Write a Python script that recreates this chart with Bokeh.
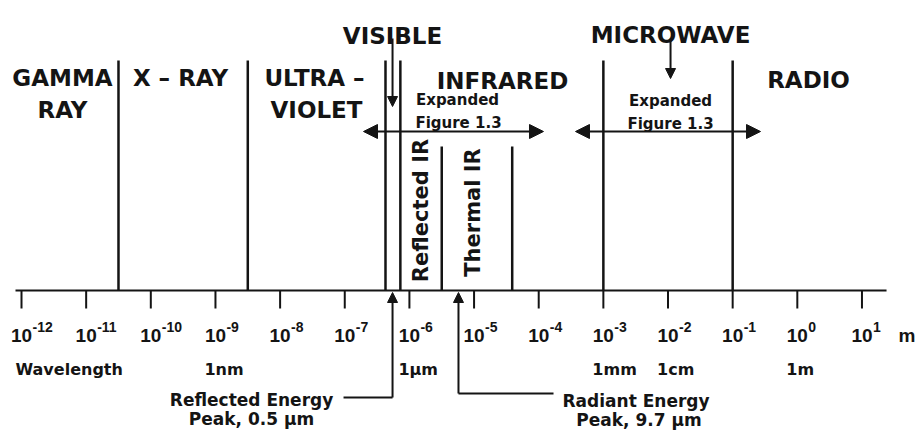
from math import pi
from bokeh.plotting import figure
from bokeh.models import Range1d, ColumnDataSource, Arrow, NormalHead
from bokeh.core.properties import value
from bokeh.embed import file_html
from bokeh.resources import INLINE

# ---------------- data (wavelength axis in log10 metres) ----------------
tick_exponents = [-12, -11, -10, -9, -8, -7, -6, -5, -4, -3, -2, -1, 0, 1]
tick_exponent_labels = ["-12", "-11", "-10", "-9", "-8", "-7", "-6", "-5", "-4",
                        "-3", "-2", "-1", "0", "1"]
# region boundaries (log10 wavelength, m)
band_edges = [-10.5, -8.5, -6.37, -6.14, -3.0, -1.0]
ir_edges = [-5.5, -4.41]
# named units below the axis
unit_names = ["1nm", "1\u03bcm", "1mm", "1cm", "1m"]
unit_exponents = [-9, -6, -3, -2, 0]
# energy peaks as drawn
reflected_peak_label = ["Reflected Energy", "Peak, 0.5 \u03bcm"]
radiant_peak_label = ["Radiant Energy", "Peak, 9.7 \u03bcm"]

# ---------------- layout ----------------
INK = "#141414"
FONT = "DejaVu Sans"
AXIS_Y = 290
TOP_Y = 60
IR_TOP_Y = 146

p = figure(width=917, height=430, output_backend="svg", toolbar_location=None,
           x_range=Range1d(-12.325, 1.859), y_range=Range1d(430, 0),
           min_border=0, outline_line_color=None)
p.axis.visible = False
p.grid.visible = False
p.background_fill_color = "white"
p.border_fill_color = "white"

# axis line and ticks
p.segment(x0=[-12.093], y0=[AXIS_Y], x1=[1.380], y1=[AXIS_Y], line_color=INK, line_width=2.2)
p.segment(x0=tick_exponents, y0=[AXIS_Y] * len(tick_exponents), x1=tick_exponents,
          y1=[AXIS_Y + 18] * len(tick_exponents), line_color=INK, line_width=2)

# tick labels 10^n
p.text(x=tick_exponents, y=[335] * len(tick_exponents), text=["10"] * len(tick_exponents),
       text_align="center", text_baseline="alphabetic", text_font=value("Liberation Sans"),
       text_font_style="bold", text_font_size="19px", text_color=INK)
p.text(x=tick_exponents, y=[326] * len(tick_exponents), text=tick_exponent_labels,
       x_offset=11, text_align="left", text_baseline="alphabetic",
       text_font=value("Liberation Sans"), text_font_style="bold", text_font_size="14px",
       text_color=INK)
p.text(x=[1.565], y=[335], text=["m"], text_align="left", text_baseline="alphabetic",
       text_font=value("Liberation Sans"), text_font_style="bold", text_font_size="19px",
       text_color=INK)

# unit row
p.text(x=unit_exponents, y=[369] * len(unit_exponents), text=unit_names, x_offset=-11,
       text_align="left", text_baseline="alphabetic", text_font=value(FONT),
       text_font_style="bold", text_font_size="16px", text_color=INK)
p.text(x=[-12.093], y=[369], text=["Wavelength"], text_align="left",
       text_baseline="alphabetic", text_font=value(FONT), text_font_style="bold",
       text_font_size="16px", text_color=INK)

# region boundaries
p.segment(x0=band_edges, y0=[AXIS_Y] * len(band_edges), x1=band_edges,
          y1=[TOP_Y] * len(band_edges), line_color=INK, line_width=2.5)
p.segment(x0=ir_edges, y0=[AXIS_Y] * len(ir_edges), x1=ir_edges,
          y1=[IR_TOP_Y] * len(ir_edges), line_color=INK, line_width=2.5)

# big region labels
big = ColumnDataSource(dict(
    x=[-11.366, -11.366, -9.541, -7.468, -7.437, -6.261, -4.560, -1.961, 0.173],
    y=[77, 109, 77, 77, 109, 35, 80, 34, 79],
    text=["GAMMA", "RAY", "X \u2013 RAY", "ULTRA \u2013", "VIOLET", "VISIBLE",
          "INFRARED", "MICROWAVE", "RADIO"]))
p.text(x="x", y="y", text="text", source=big, text_align="center",
       text_baseline="alphabetic", text_font=value(FONT), text_font_style="bold",
       text_font_size="23px", text_color=INK)

# "Expanded Figure 1.3"
exp_src = ColumnDataSource(dict(
    x=[-5.256, -5.241, -1.961, -1.961],
    y=[99, 122.5, 100, 123],
    text=["Expanded", "Figure 1.3", "Expanded", "Figure 1.3"]))
p.text(x="x", y="y", text="text", source=exp_src, text_align="center",
       text_baseline="alphabetic", text_font=value(FONT), text_font_style="bold",
       text_font_size="15px", text_color=INK)

# rotated IR sub-band labels
p.text(x=[-5.828, -5.024], y=[210, 212], text=["Reflected IR", "Thermal IR"],
       angle=pi / 2, text_align="center", text_baseline="middle", text_font=value(FONT),
       text_font_style="bold", text_font_size="21px", text_color=INK)

# energy peak labels
p.text(x=[-8.442, -8.442], y=[399, 418], text=reflected_peak_label, text_align="center",
       text_baseline="alphabetic", text_font=value(FONT), text_font_style="bold",
       text_font_size="17px", text_color=INK)
p.text(x=[-3.632], y=[400], text=[radiant_peak_label[0]], text_align="left",
       text_baseline="alphabetic", text_font=value(FONT), text_font_style="bold",
       text_font_size="17px", text_color=INK)
p.text(x=[-2.449], y=[419], text=[radiant_peak_label[1]], text_align="center",
       text_baseline="alphabetic", text_font=value(FONT), text_font_style="bold",
       text_font_size="17px", text_color=INK)

# connector lines for peaks
p.segment(x0=[-7.019, -5.241], y0=[397, 393], x1=[-6.261, -3.771], y1=[397, 393],
          line_color=INK, line_width=2)


def head(size):
    return NormalHead(size=size, fill_color=INK, line_color=INK, line_width=1)


# peak arrows (pointing up to the axis)
for xa, y0 in [(-6.261, 397), (-5.241, 393)]:
    p.add_layout(Arrow(end=head(10), x_start=xa, y_start=y0, x_end=xa, y_end=292,
                       line_color=INK, line_width=2))

# VISIBLE / MICROWAVE pointer arrows
p.add_layout(Arrow(end=head(10), x_start=-6.261, y_start=38, x_end=-6.261, y_end=106,
                   line_color=INK, line_width=2))
p.add_layout(Arrow(end=head(10), x_start=-1.961, y_start=38, x_end=-1.961, y_end=78,
                   line_color=INK, line_width=2))

# double arrows "Expanded Figure 1.3"
for xs, xe in [(-6.710, -3.926), (-3.431, -0.569)]:
    p.add_layout(Arrow(start=head(14), end=head(14), x_start=xs, y_start=131, x_end=xe,
                       y_end=131, line_color=INK, line_width=2.2))

open("out.html", "w").write(file_html(p, INLINE))
